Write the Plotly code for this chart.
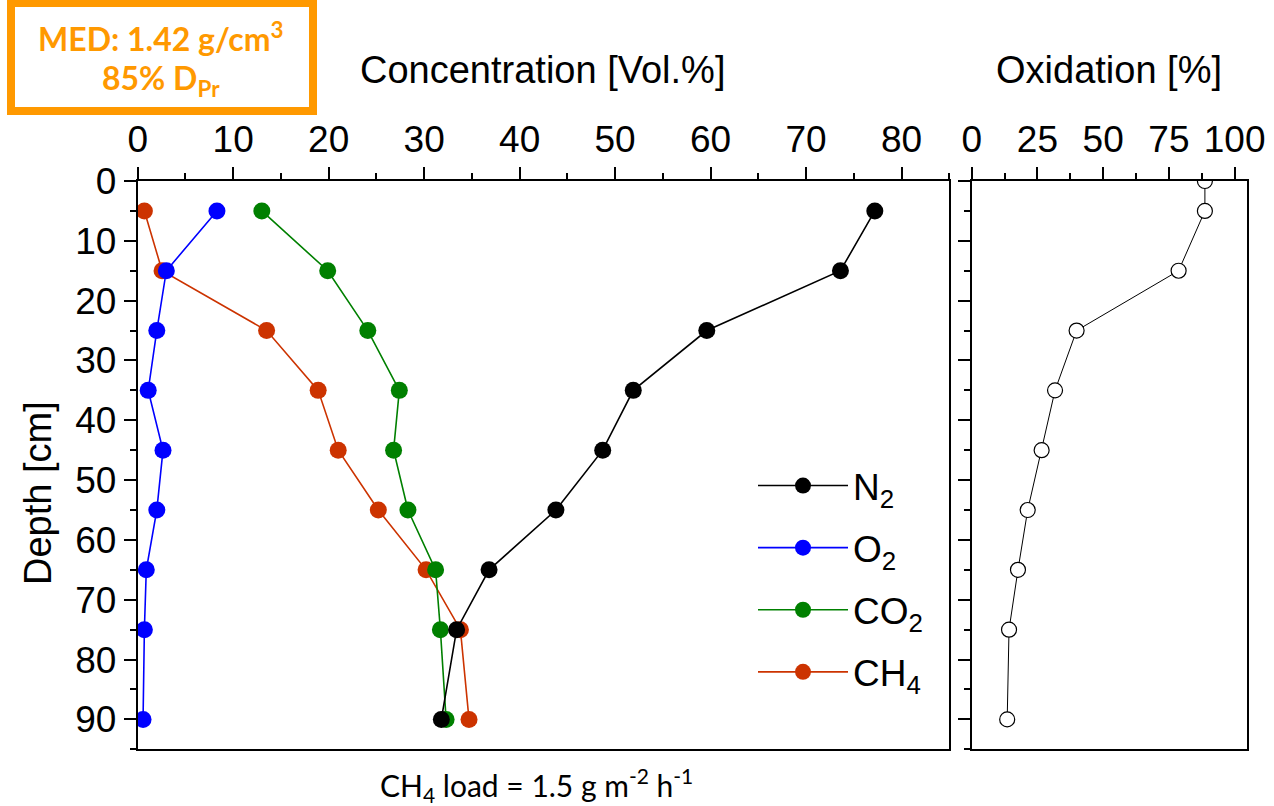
import plotly.graph_objects as go

W, H = 1274, 806

depth = [5, 15, 25, 35, 45, 55, 65, 75, 90]
n2 = [77.2, 73.6, 59.6, 51.9, 48.7, 43.8, 36.8, 33.4, 31.8]
o2 = [8.3, 3.0, 2.0, 1.1, 2.65, 2.0, 0.9, 0.7, 0.56]
co2 = [13.0, 19.9, 24.1, 27.4, 26.8, 28.3, 31.2, 31.7, 32.3]
ch4 = [0.7, 2.55, 13.5, 18.9, 21.0, 25.2, 30.2, 33.8, 34.7]

ox_depth = [0, 5, 15, 25, 35, 45, 55, 65, 75, 90]
oxidation = [88.7, 88.7, 78.7, 39.9, 31.7, 26.6, 21.3, 17.6, 14.2, 13.5]

x_ticks_conc = [0, 10, 20, 30, 40, 50, 60, 70, 80]
x_ticks_ox = [0, 25, 50, 75, 100]
y_ticks = [0, 10, 20, 30, 40, 50, 60, 70, 80, 90]

# drawing order: CH4 at the back, N2 on top; legend ranks give N2, O2, CO2, CH4
series = [
    ("CH<sub>4</sub>", ch4, "#CC3300", 4),
    ("CO<sub>2</sub>", co2, "#008000", 3),
    ("O<sub>2</sub>", o2, "#0000FF", 2),
    ("N<sub>2</sub>", n2, "#000000", 1),
]

FONT = "Liberation Sans, Arial, sans-serif"
FS = 37

fig = go.Figure()
for i, (name, vals, col, rank) in enumerate(series):
    fig.add_trace(go.Scatter(
        x=vals, y=depth, name=name, mode="lines+markers",
        line=dict(color=col, width=1.6),
        marker=dict(color=col, size=17),
        xaxis="x", yaxis="y", legendgroup=f"g{i}", legendrank=rank,
    ))

fig.add_trace(go.Scatter(
    x=oxidation, y=ox_depth, mode="lines+markers", showlegend=False,
    line=dict(color="black", width=1),
    marker=dict(color="white", size=15, line=dict(color="black", width=1.2)),
    xaxis="x2", yaxis="y2",
))

def px_x(v):
    return v / W

def px_y(v):
    return 1 - v / H

ydom = [px_y(749.3), px_y(181.0)]
common_axis = dict(
    showgrid=False, zeroline=False, showline=True, linecolor="black",
    linewidth=2, ticks="outside", ticklen=12, tickwidth=2, tickcolor="black",
    tickfont=dict(family=FONT, size=FS, color="black"), mirror=True,
    automargin=False,
)
minor_common = dict(ticks="outside", ticklen=6, tickwidth=2, tickcolor="black", tick0=0)

fig.update_layout(
    width=W, height=H, margin=dict(l=0, r=0, t=0, b=0, pad=0),
    paper_bgcolor="white", plot_bgcolor="white",
    xaxis=dict(domain=[px_x(137.7), px_x(949.3)], range=[0, 85], side="top",
               anchor="y", tickmode="array", tickvals=x_ticks_conc,
               minor=dict(dtick=5, **minor_common), **common_axis),
    yaxis=dict(domain=ydom, range=[95, 0], anchor="x", tickmode="array",
               tickvals=y_ticks, minor=dict(dtick=5, **minor_common), **common_axis),
    xaxis2=dict(domain=[px_x(971.7), px_x(1246.7)], range=[0, 104.6], side="top",
                anchor="y2", tickmode="array", tickvals=x_ticks_ox,
                minor=dict(dtick=12.5, **minor_common), **common_axis),
    yaxis2=dict(domain=ydom, range=[95, 0], anchor="x2", tickmode="array",
                tickvals=y_ticks, showticklabels=False,
                minor=dict(dtick=5, **minor_common), **common_axis),
    legend=dict(x=px_x(753), y=px_y(455), xanchor="left", yanchor="top",
                traceorder="grouped", tracegroupgap=11,
                font=dict(family=FONT, size=FS, color="black"),
                bgcolor="rgba(0,0,0,0)", itemwidth=90, itemsizing="trace"),
    showlegend=True,
)

def note(text, x, y, size, family=FONT, color="black", angle=0):
    fig.add_annotation(text=text, x=px_x(x), y=px_y(y), xref="paper", yref="paper",
                       xanchor="center", yanchor="middle", showarrow=False,
                       textangle=angle, font=dict(family=family, size=size, color=color))

note("Concentration [Vol.%]", 542.5, 70, 38)
note("Oxidation [%]", 1109, 70, 38)
note("Depth [cm]", 38, 493, 38, angle=-90)
note("CH<sub>4</sub> load = 1.5 g m<sup>-2</sup> h<sup>-1</sup>", 536, 785, 30,
     family="Lato, sans-serif")

ORANGE = "#FF9900"
fig.add_shape(type="rect", xref="paper", yref="paper",
              x0=px_x(11), x1=px_x(313), y0=px_y(111), y1=px_y(3),
              line=dict(color=ORANGE, width=8), fillcolor="white", layer="below")
note("<b>MED: 1.42 g/cm<sup>3</sup></b>", 161, 37, 32, family="Lato, sans-serif", color=ORANGE)
note("<b>85% D<sub>Pr</sub></b>", 161, 80, 32, family="Lato, sans-serif", color=ORANGE)

fig.write_html("out.html")
